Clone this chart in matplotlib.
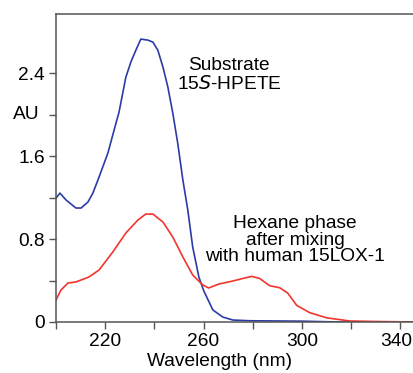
import numpy as np
import matplotlib
matplotlib.use("Agg")
import matplotlib.pyplot as plt
import matplotlib.transforms as mtransforms

plt.rcParams['font.family'] = ['Liberation Sans', 'DejaVu Sans']

# substrate 15S-HPETE spectrum (blue)
wl_sub = [200.0, 201.6, 204.1, 208.1, 210.2, 213.0, 215.0, 217.5, 221.1, 224.4, 225.6,
          228.4, 230.5, 232.5, 234.5, 237.4, 239.4, 241.4, 243.5, 245.5, 247.5, 249.5,
          251.6, 253.6, 255.6, 258.1, 260.1, 263.8, 267.8, 271.9, 278.8, 290, 300, 315, 346]
au_sub = [1.195, 1.243, 1.176, 1.099, 1.099, 1.157, 1.243, 1.397, 1.629, 1.918, 2.02,
          2.36, 2.51, 2.622, 2.728, 2.718, 2.699, 2.622, 2.458, 2.265, 2.014, 1.725,
          1.369, 1.080, 0.723, 0.434, 0.300, 0.116, 0.048, 0.019, 0.012, 0.01, 0.008, 0.0, 0.0]

# hexane phase after mixing with 15LOX-1 (red)
wl_hex = [200.0, 202.0, 204.9, 208.1, 213.4, 217.5, 223.1, 228.4, 233.3, 236.5, 239.4,
          243.5, 247.5, 251.6, 255.6, 259.7, 262.1, 266.2, 271.9, 276, 279.6, 282.8,
          286.9, 291.0, 294.2, 297.9, 303.2, 310.1, 319.4, 330, 346]
au_hex = [0.212, 0.308, 0.376, 0.386, 0.434, 0.501, 0.675, 0.858, 0.983, 1.041, 1.041,
          0.964, 0.819, 0.627, 0.453, 0.357, 0.328, 0.366, 0.395, 0.42, 0.44, 0.42,
          0.35, 0.33, 0.28, 0.16, 0.09, 0.04, 0.01, 0.005, 0.0]

fig = plt.figure(figsize=(4.14, 3.73), dpi=100)
ax = fig.add_axes([56 / 414, 51 / 373, 358 / 414, 308 / 373])

ax.plot(wl_sub, au_sub, color='#2b3ba8', lw=1.2)
ax.plot(wl_hex, au_hex, color='#f2352c', lw=1.2)

ax.set_xlim(200, 345.6)
ax.set_ylim(0, 2.97)

ax.set_xticks([220, 260, 300, 340])
ax.set_xticks([200, 240, 280, 320], minor=True)
ax.set_yticks([0, 0.8, 1.6, 2.4])
ax.set_yticklabels(['0', '0.8', '1.6', '2.4'])
ax.set_yticks([0.4, 1.2, 2.0], minor=True)
ax.tick_params(which='both', direction='out', length=5, width=1, color='#555555',
               labelsize=13.8, pad=3)

# keep the last x label inside the picture
last = ax.get_xticklabels()[-1]
last.set_transform(last.get_transform() +
                   mtransforms.ScaledTranslation(-4 / 100, 0, fig.dpi_scale_trans))

for s in ['left', 'bottom', 'top']:
    ax.spines[s].set_color('#555555')
    ax.spines[s].set_linewidth(1.1)
ax.spines['right'].set_visible(False)

ax.set_xlabel('Wavelength (nm)', fontsize=13.8)
ax.xaxis.set_label_coords(0.458, -0.127)
ax.xaxis.label.set_va('center')
ax.text(-0.084, 2.0, 'AU', transform=ax.get_yaxis_transform(), ha='center', va='center',
        fontsize=13.8)

ax.text(0.483, 0.834, 'Substrate', transform=ax.transAxes, ha='center', va='center', fontsize=13.8)
ax.text(0.483, 0.774, '15$\\it{S}$-HPETE', transform=ax.transAxes, ha='center', va='center',
        fontsize=13.8)
ax.text(0.668, 0.266, 'Hexane phase\nafter mixing\nwith human 15LOX-1', transform=ax.transAxes,
        ha='center', va='center', fontsize=13.8, linespacing=0.95)

fig.savefig('out.png', dpi=100)
